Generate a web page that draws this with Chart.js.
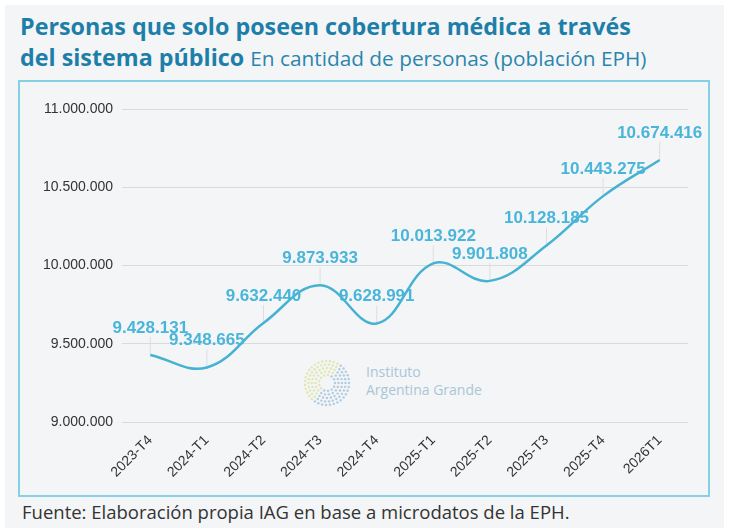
<!DOCTYPE html>
<html>
<head>
<meta charset="utf-8">
<script src="https://cdn.jsdelivr.net/npm/chart.js@4.4.1/dist/chart.umd.min.js"></script>
<style>
  body { margin: 0; width: 731px; height: 528px; background: #fff; overflow: hidden; position: relative; font-family: "Open Sans", sans-serif; }
  #panel { position: absolute; left: 5px; top: 5px; width: 719px; height: 523px; background: #f4f5f6; }
  .tl { position: absolute; left: 20px; line-height: 32px; height: 32px; color: #1d7fa9; white-space: nowrap; font-size: 23.3px; font-weight: 700; }
  #t1 { top: 10px; }
  #t2 { top: 41px; }
  .tl span { font-size: 20.8px; font-weight: 400; color: #2a86ad; }
  #box { position: absolute; left: 18px; top: 80px; width: 692px; height: 417px; box-sizing: border-box; border: 2px solid #86d0e4; }
  #logoText { position: absolute; left: 366px; top: 363px; font-size: 14px; line-height: 18px; color: #a9c6d8; }
  #source { position: absolute; left: 22px; top: 499px; font-size: 18.5px; color: #333; }
  canvas { position: absolute; left: 0; top: 0; }
</style>
</head>
<body>
<div id="panel"></div>
<div class="tl" id="t1">Personas que solo poseen cobertura médica a través</div>
<div class="tl" id="t2">del sistema público <span>En cantidad de personas (población EPH)</span></div>
<div id="box"></div>
<div id="logoText">Instituto<br>Argentina Grande</div>
<div id="source">Fuente: Elaboración propia IAG en base a microdatos de la EPH.</div>
<canvas id="chart" width="731" height="528"></canvas>
<script>
const periods = ['2023-T4', '2024-T1', '2024-T2', '2024-T3', '2024-T4', '2025-T1', '2025-T2', '2025-T3', '2025-T4', '2026T1'];
const personas = [9428131, 9348665, 9632440, 9873933, 9628991, 10013922, 9901808, 10128185, 10443275, 10674416];
const yTicks = [9000000, 9500000, 10000000, 10500000, 11000000];

const fmt = v => String(v).replace(/\B(?=(\d{3})+(?!\d))/g, '.');

// logo del IAG (anillo de puntos) + etiquetas con linea guia
const labelsPlugin = {
  id: 'labels',
  beforeDatasetsDraw(chart) {
    const ctx = chart.ctx;
    // logo
    const cx = 327, cy = 383;
    ctx.save();
    for (let r = 8; r <= 22; r += 3.5) {
      const n = Math.round(r * 1.6);
      for (let k = 0; k < n; k++) {
        const a = (k / n) * Math.PI * 2;
        const side = Math.cos(a - 0.6);
        ctx.fillStyle = side > 0 ? 'rgba(120,170,210,0.55)' : 'rgba(205,220,120,0.55)';
        ctx.beginPath();
        ctx.arc(cx + Math.cos(a) * r, cy + Math.sin(a) * r, 1.2, 0, Math.PI * 2);
        ctx.fill();
      }
    }
    // lineas guia
    const meta = chart.getDatasetMeta(0);
    ctx.strokeStyle = '#dcdfe2';
    ctx.lineWidth = 1;
    meta.data.forEach(pt => {
      ctx.beginPath();
      ctx.moveTo(pt.x, pt.y - 18);
      ctx.lineTo(pt.x, pt.y);
      ctx.stroke();
    });
    ctx.restore();
  },
  afterDatasetsDraw(chart) {
    const ctx = chart.ctx;
    const meta = chart.getDatasetMeta(0);
    ctx.save();
    ctx.font = 'bold 17px "Liberation Sans", Arial, sans-serif';
    ctx.fillStyle = '#4ab5da';
    ctx.textAlign = 'center';
    ctx.textBaseline = 'middle';
    meta.data.forEach((pt, i) => {
      ctx.fillText(fmt(personas[i]), pt.x, pt.y - 27);
    });
    ctx.restore();
  }
};

new Chart(document.getElementById('chart'), {
  type: 'line',
  data: {
    labels: periods,
    datasets: [{
      data: personas,
      borderColor: '#46b2d2',
      borderWidth: 2.5,
      tension: 0.4,
      pointRadius: 0,
      fill: false
    }]
  },
  options: {
    responsive: false,
    animation: false,
    layout: { padding: { left: 42, right: 43, top: 109, bottom: 26 } },
    plugins: { legend: { display: false }, tooltip: { enabled: false } },
    scales: {
      x: {
        offset: true,
        grid: { display: false },
        border: { display: false },
        ticks: {
          minRotation: 45, maxRotation: 45, padding: 2,
          color: '#333',
          font: { family: '"Liberation Sans", Arial, sans-serif', size: 14 }
        },
        afterFit: s => { s.height = 80; }
      },
      y: {
        min: 9000000,
        max: 11000000,
        afterBuildTicks: s => { s.ticks = yTicks.map(v => ({ value: v })); },
        grid: { color: '#d9dadb', drawTicks: false },
        border: { display: false },
        ticks: {
          padding: 9,
          color: '#333',
          font: { family: '"Liberation Sans", Arial, sans-serif', size: 14 },
          callback: v => fmt(v)
        },
        afterFit: s => { s.width = 80; }
      }
    }
  },
  plugins: [labelsPlugin]
});
</script>
</body>
</html>
